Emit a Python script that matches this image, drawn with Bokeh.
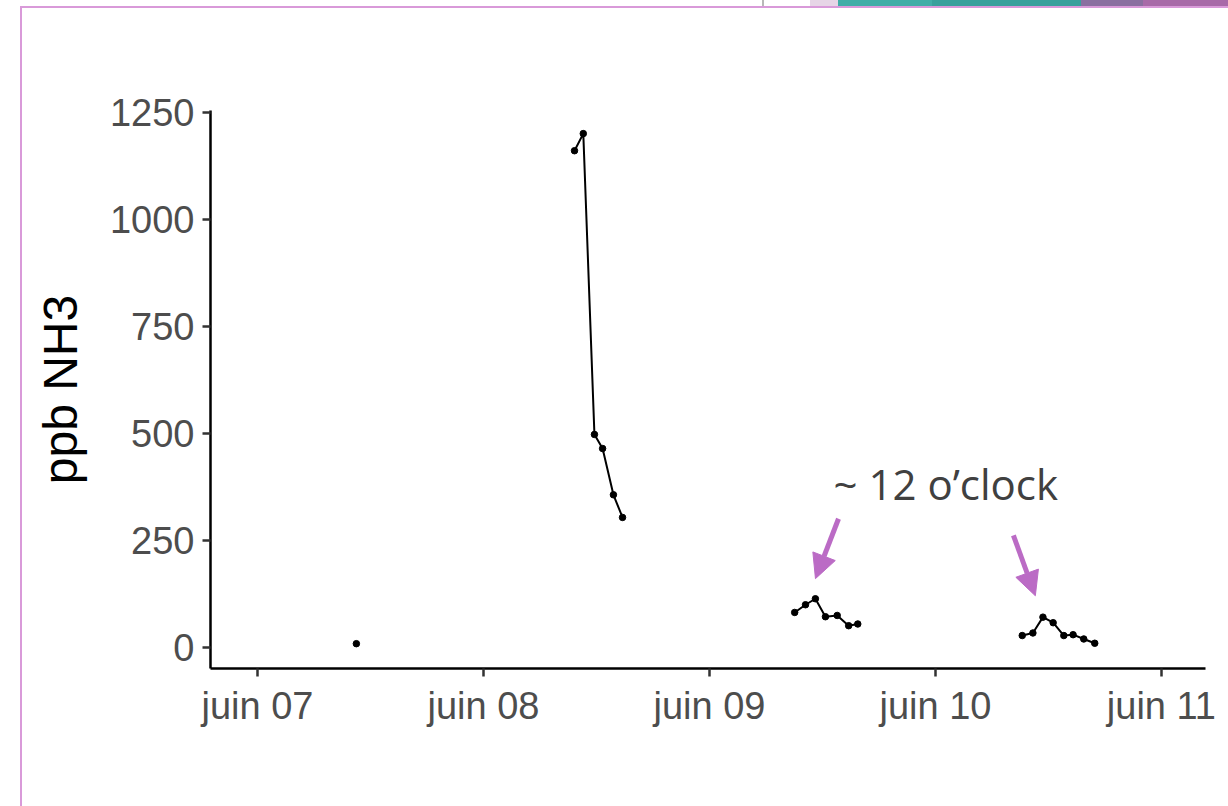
import pandas as pd
from bokeh.plotting import figure
from bokeh.models import (FixedTicker, DatetimeTickFormatter, Arrow, NormalHead,
                          Label, Range1d)
from bokeh.embed import file_html
from bokeh.resources import INLINE

# NH3 readings (ppb), one series per measuring day
day07_time = ["2021-06-07 10:30"]
day07_ppb = [9]
day08_time = ["2021-06-08 09:40", "2021-06-08 10:36", "2021-06-08 11:47",
              "2021-06-08 12:39", "2021-06-08 13:48", "2021-06-08 14:46"]
day08_ppb = [1161, 1201, 498, 465, 357, 304]
day09_time = ["2021-06-09 09:03", "2021-06-09 10:12", "2021-06-09 11:15",
              "2021-06-09 12:19", "2021-06-09 13:34", "2021-06-09 14:47",
              "2021-06-09 15:45"]
day09_ppb = [82, 100, 114, 72, 75, 51, 55]
day10_time = ["2021-06-10 09:13", "2021-06-10 10:21", "2021-06-10 11:25",
              "2021-06-10 12:30", "2021-06-10 13:38", "2021-06-10 14:37",
              "2021-06-10 15:45", "2021-06-10 16:55"]
day10_ppb = [28, 34, 71, 58, 28, 30, 20, 10]

tick_days = ["2021-06-07", "2021-06-08", "2021-06-09", "2021-06-10", "2021-06-11"]
y_ticks = [0, 250, 500, 750, 1000, 1250]

series = [(day07_time, day07_ppb), (day08_time, day08_ppb),
          (day09_time, day09_ppb), (day10_time, day10_ppb)]

DAY_MS = 86400000.0


def ms(s):
    return pd.Timestamp(s).value / 1e6


start = ms(tick_days[0])

p = figure(width=1228, height=806, output_backend="svg", toolbar_location=None,
           x_axis_type="datetime",
           x_range=Range1d(start - 0.208 * DAY_MS, start + 4.195 * DAY_MS),
           y_range=Range1d(-49, 1255),
           min_border_left=210, min_border_right=23,
           min_border_top=110, min_border_bottom=138)
p.background_fill_color = "white"
p.border_fill_color = None
p.outline_line_color = None
p.grid.visible = False

# slide frame lines and the coloured strip along the top edge
def band(color, x, y, w, h):
    return f"linear-gradient({color},{color}) {x}px {y}px / {w}px {h}px no-repeat"


frame_pink = "#d99ad9"
p.styles = {"background": ", ".join([
    band(frame_pink, 20, 6, 2, 800),
    band(frame_pink, 20, 6, 1208, 2),
    band("#b8b8b8", 762, 0, 2, 6),
    band("#e6d5e6", 810, 0, 28, 6),
    band("#40ada7", 838, 0, 94, 6),
    band("#38a09c", 932, 0, 149, 6),
    band("#8a6fa0", 1081, 0, 62, 6),
    band("#a86aa8", 1143, 0, 85, 6),
]) + ", white"}

for t, v in series:
    xs = pd.to_datetime(t)
    if len(v) > 1:
        p.line(xs, v, line_color="black", line_width=2)
    p.scatter(xs, v, size=6.5, color="black")

# axes in a classic style: left and bottom lines only
for ax in (p.xaxis[0], p.yaxis[0]):
    ax.axis_line_color = "black"
    ax.axis_line_width = 2.5
    ax.major_tick_line_color = "#333333"
    ax.major_tick_line_width = 2.5
    ax.major_tick_out = 8
    ax.major_tick_in = 0
    ax.minor_tick_line_color = None
    ax.major_label_text_font = "Liberation Sans"
    ax.major_label_text_font_size = "38px"
    ax.major_label_text_color = "#4d4d4d"

p.xaxis.ticker = FixedTicker(ticks=[ms(d) for d in tick_days])
fmt = "juin %d"
p.xaxis.formatter = DatetimeTickFormatter(days=fmt, hours=fmt, months=fmt,
                                          minutes=fmt, hourmin=fmt, years=fmt)
p.xaxis.major_label_standoff = 8

p.yaxis.ticker = FixedTicker(ticks=y_ticks)
p.yaxis.major_label_standoff = 8
p.yaxis.axis_label = "ppb NH3"
p.yaxis.axis_label_text_font = "Liberation Sans"
p.yaxis.axis_label_text_font_style = "normal"
p.yaxis.axis_label_text_font_size = "48px"
p.yaxis.axis_label_text_color = "black"
p.yaxis.axis_label_standoff = 20

# callout: text and two arrows pointing at the midday peaks
accent = "#bb6bc5"
p.add_layout(Label(x=start + 2.549 * DAY_MS, y=383, text="~ 12 o\u2019clock",
                   text_font="Open Sans", text_font_size="42px",
                   text_color="#404040", text_baseline="alphabetic"))
arrow_specs = [((2.571, 301), (2.469, 161)), ((3.345, 262), (3.442, 121))]
for (x0, y0), (x1, y1) in arrow_specs:
    p.add_layout(Arrow(x_start=start + x0 * DAY_MS, y_start=y0,
                       x_end=start + x1 * DAY_MS, y_end=y1,
                       line_color=accent, line_width=5,
                       end=NormalHead(size=24, fill_color=accent,
                                      line_color=accent, line_width=1)))

open("out.html", "w").write(file_html(p, INLINE))
